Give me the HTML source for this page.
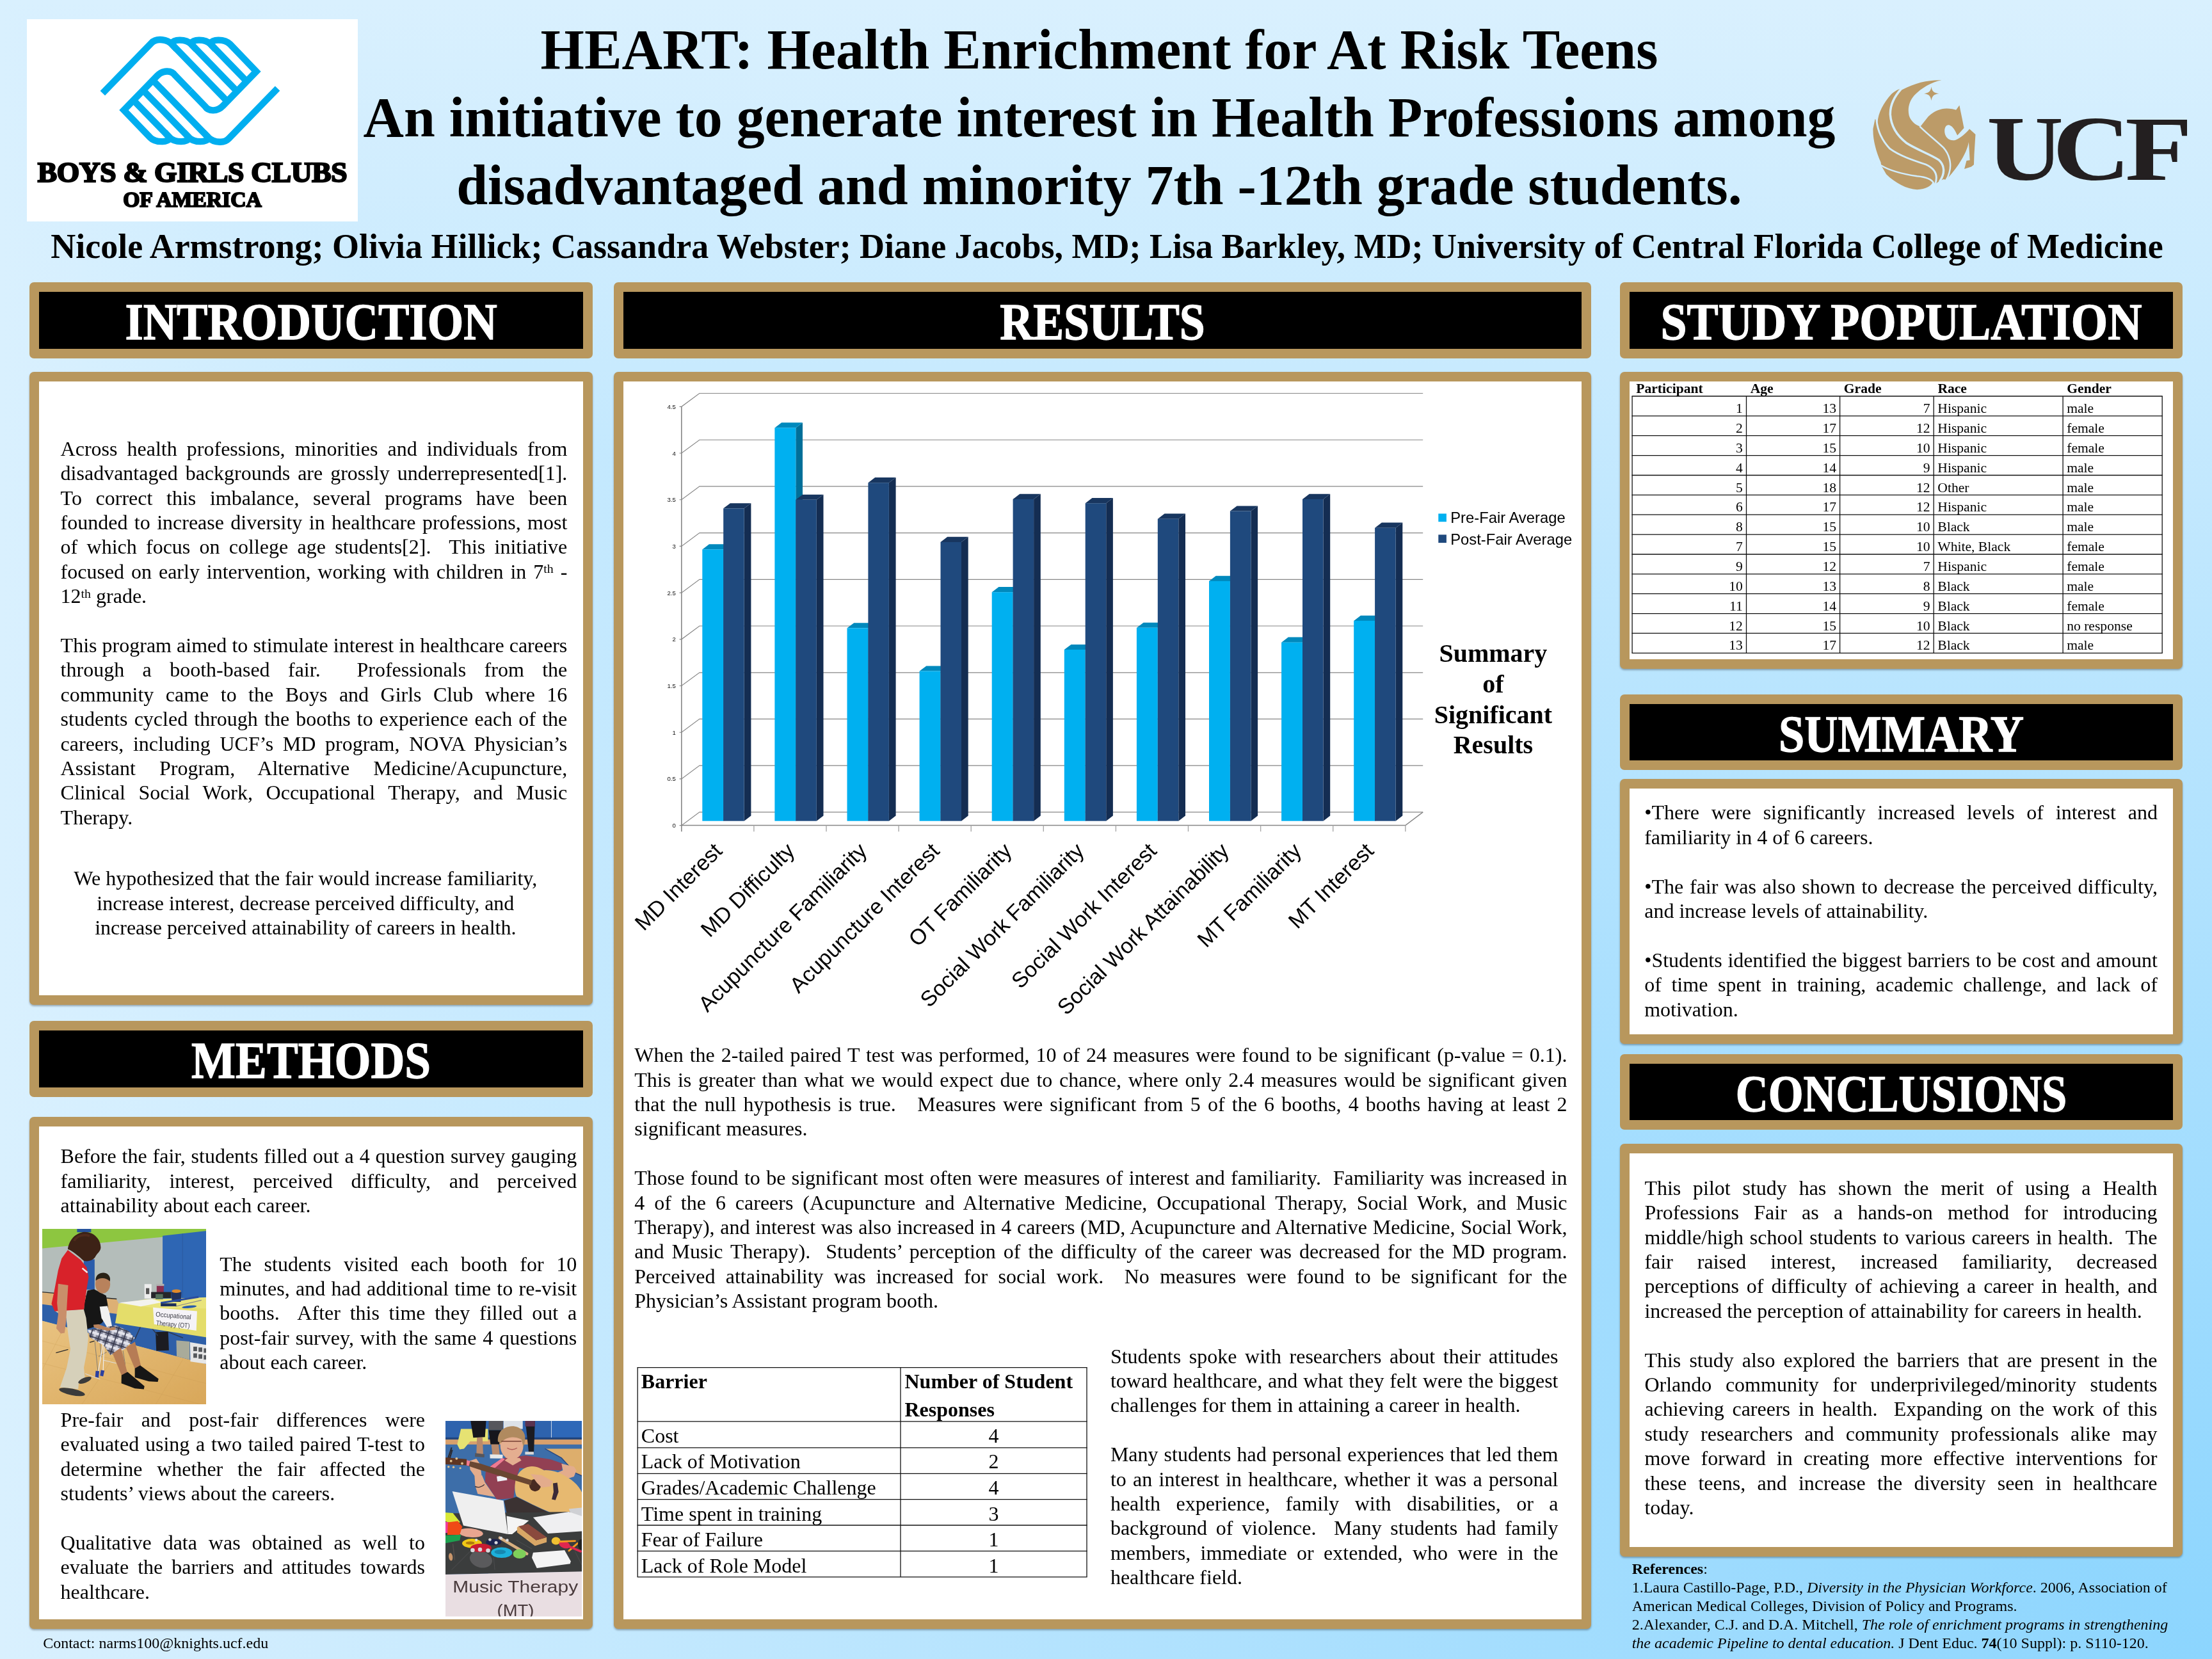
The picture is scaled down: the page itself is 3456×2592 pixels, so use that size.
<!DOCTYPE html>
<html><head><meta charset="utf-8"><title>HEART poster</title>
<style>
html,body{margin:0;padding:0}
body{width:3456px;height:2592px;position:relative;overflow:hidden;font-family:"Liberation Serif",serif;color:#000;
background:linear-gradient(to bottom,#d9f0fe,#8cd5fe)}
#bg2{position:absolute;left:0;top:0;width:3456px;height:2592px;clip-path:polygon(0 0,100% 100%,0 100%);
background:linear-gradient(to right,#d9f0fe,#8cd5fe)}
.f{position:absolute;box-sizing:border-box;border:15px solid #b8975d;border-radius:7px}
.fh{background:#000}
.fb{background:#fff;box-shadow:0 2px 3px rgba(0,0,0,.3)}
.h{position:absolute;font-weight:bold;font-size:80px;line-height:80px;color:#fff;text-align:center;white-space:nowrap;transform-origin:50% 50%;-webkit-text-stroke:1.3px #fff}
.t{position:absolute;font-size:32px;line-height:38.4px;text-align:justify}
.t p{margin:0}
.ttl{position:absolute;font-weight:bold;font-size:88px;line-height:106.4px;text-align:center;white-space:nowrap}
sup{font-size:62%;line-height:0;vertical-align:baseline;position:relative;top:-0.42em}
table{border-collapse:collapse}
svg{position:absolute;overflow:visible}
#wrap{position:absolute;left:0;top:0;width:3456px;height:2592px;will-change:transform}
</style></head><body>
<div id="bg2"></div>
<div id="wrap">
<!-- frames -->
<div class="f fh" style="left:46px;top:441px;width:880px;height:119px"></div>
<div class="f fb" style="left:46px;top:581px;width:880px;height:989px"></div>
<div class="f fh" style="left:46px;top:1595px;width:880px;height:119px"></div>
<div class="f fb" style="left:46px;top:1745px;width:880px;height:800px"></div>
<div class="f fh" style="left:959px;top:441px;width:1527px;height:119px"></div>
<div class="f fb" style="left:959px;top:581px;width:1527px;height:1964px"></div>
<div class="f fh" style="left:2531px;top:441px;width:879px;height:119px"></div>
<div class="f fb" style="left:2531px;top:581px;width:879px;height:464px"></div>
<div class="f fh" style="left:2531px;top:1085px;width:879px;height:118px"></div>
<div class="f fb" style="left:2531px;top:1217px;width:879px;height:414px"></div>
<div class="f fh" style="left:2531px;top:1647px;width:879px;height:118px"></div>
<div class="f fb" style="left:2531px;top:1787px;width:879px;height:645px"></div>
<!-- headings -->
<div class="h" style="left:46px;width:880px;top:463px;transform:scaleX(.908)">INTRODUCTION</div>
<div class="h" style="left:46px;width:880px;top:1617px;transform:scaleX(.914)">METHODS</div>
<div class="h" style="left:959px;width:1527px;top:463px;transform:scaleX(.8965)">RESULTS</div>
<div class="h" style="left:2531px;width:879px;top:463px;transform:scaleX(.9218)">STUDY POPULATION</div>
<div class="h" style="left:2531px;width:879px;top:1107px;transform:scaleX(.904)">SUMMARY</div>
<div class="h" style="left:2531px;width:879px;top:1669px;transform:scaleX(.882)">CONCLUSIONS</div>
<!-- title -->
<div class="ttl" style="left:0;width:3435px;top:24.5px;font-size:87.85px">HEART: Health Enrichment for At Risk Teens<br>An initiative to generate interest in Health Professions among<br>disadvantaged and minority 7th -12th grade students.</div>
<div class="ttl" style="left:0;width:3459px;top:352.5px;font-size:54px;line-height:64.8px">Nicole Armstrong; Olivia Hillick; Cassandra Webster; Diane Jacobs, MD; Lisa Barkley, MD; University of Central Florida College of Medicine</div>
<style>
.l{position:absolute;font-size:32px;line-height:38.4px;height:38.4px;white-space:nowrap;text-align:justify;text-align-last:justify}
.ll{text-align:left;text-align-last:left}
.lc{text-align:center;text-align-last:center}
.r{position:absolute;font-size:24px;line-height:28.8px;white-space:nowrap}
</style>
<div class="l" style="left:94.6px;top:681.8px;width:791.7px">Across health professions, minorities and individuals from</div>
<div class="l" style="left:94.6px;top:720.2px;width:791.7px">disadvantaged backgrounds are grossly underrepresented[1].</div>
<div class="l" style="left:94.6px;top:758.6px;width:791.7px">To correct this imbalance, several programs have been</div>
<div class="l" style="left:94.6px;top:797.0px;width:791.7px">founded to increase diversity in healthcare professions, most</div>
<div class="l" style="left:94.6px;top:835.4px;width:791.7px">of which focus on college age students[2].&nbsp; This initiative</div>
<div class="l" style="left:94.6px;top:873.8px;width:791.7px">focused on early intervention, working with children in 7<sup>th</sup> -</div>
<div class="l ll" style="left:94.6px;top:912.2px;width:791.7px">12<sup>th</sup> grade.</div>
<div class="l" style="left:94.6px;top:989.0px;width:791.7px">This program aimed to stimulate interest in healthcare careers</div>
<div class="l" style="left:94.6px;top:1027.4px;width:791.7px">through a booth-based fair.&nbsp; Professionals from the</div>
<div class="l" style="left:94.6px;top:1065.8px;width:791.7px">community came to the Boys and Girls Club where 16</div>
<div class="l" style="left:94.6px;top:1104.2px;width:791.7px">students cycled through the booths to experience each of the</div>
<div class="l" style="left:94.6px;top:1142.6px;width:791.7px">careers, including UCF’s MD program, NOVA Physician’s</div>
<div class="l" style="left:94.6px;top:1181.0px;width:791.7px">Assistant Program, Alternative Medicine/Acupuncture,</div>
<div class="l" style="left:94.6px;top:1219.4px;width:791.7px">Clinical Social Work, Occupational Therapy, and Music</div>
<div class="l ll" style="left:94.6px;top:1257.8px;width:791.7px">Therapy.</div>
<div class="l ll lc" style="left:77.3px;top:1353.0px;width:800.0px">We hypothesized that the fair would increase familiarity,</div>
<div class="l ll lc" style="left:77.3px;top:1391.6px;width:800.0px">increase interest, decrease perceived difficulty, and</div>
<div class="l ll lc" style="left:77.3px;top:1430.2px;width:800.0px">increase perceived attainability of careers in health.</div>
<div class="l" style="left:94.6px;top:1787.3px;width:806.6px">Before the fair, students filled out a 4 question survey gauging</div>
<div class="l" style="left:94.6px;top:1825.7px;width:806.6px">familiarity, interest, perceived difficulty, and perceived</div>
<div class="l ll" style="left:94.6px;top:1864.1px;width:806.6px">attainability about each career.</div>
<div class="l" style="left:343.3px;top:1955.5px;width:557.9px">The students visited each booth for 10</div>
<div class="l" style="left:343.3px;top:1993.9px;width:557.9px">minutes, and had additional time to re-visit</div>
<div class="l" style="left:343.3px;top:2032.3px;width:557.9px">booths.&nbsp; After this time they filled out a</div>
<div class="l" style="left:343.3px;top:2070.7px;width:557.9px">post-fair survey, with the same 4 questions</div>
<div class="l ll" style="left:343.3px;top:2109.1px;width:557.9px">about each career.</div>
<div class="l" style="left:94.6px;top:2199.0px;width:569.4px">Pre-fair and post-fair differences were</div>
<div class="l" style="left:94.6px;top:2237.4px;width:569.4px">evaluated using a two tailed paired T-test to</div>
<div class="l" style="left:94.6px;top:2275.8px;width:569.4px">determine whether the fair affected the</div>
<div class="l ll" style="left:94.6px;top:2314.2px;width:569.4px">students’ views about the careers.</div>
<div class="l" style="left:94.6px;top:2391.0px;width:569.4px">Qualitative data was obtained as well to</div>
<div class="l" style="left:94.6px;top:2429.4px;width:569.4px">evaluate the barriers and attitudes towards</div>
<div class="l ll" style="left:94.6px;top:2467.8px;width:569.4px">healthcare.</div>
<div class="l" style="left:991.3px;top:1629.2px;width:1457.2px">When the 2-tailed paired T test was performed, 10 of 24 measures were found to be significant (p-value = 0.1).</div>
<div class="l" style="left:991.3px;top:1667.6px;width:1457.2px">This is greater than what we would expect due to chance, where only 2.4 measures would be significant given</div>
<div class="l" style="left:991.3px;top:1706.0px;width:1457.2px">that the null hypothesis is true.&nbsp;&nbsp; Measures were significant from 5 of the 6 booths, 4 booths having at least 2</div>
<div class="l ll" style="left:991.3px;top:1744.4px;width:1457.2px">significant measures.</div>
<div class="l" style="left:991.3px;top:1821.2px;width:1457.2px">Those found to be significant most often were measures of interest and familiarity.&nbsp; Familiarity was increased in</div>
<div class="l" style="left:991.3px;top:1859.6px;width:1457.2px">4 of the 6 careers (Acupuncture and Alternative Medicine, Occupational Therapy, Social Work, and Music</div>
<div class="l" style="left:991.3px;top:1898.0px;width:1457.2px">Therapy), and interest was also increased in 4 careers (MD, Acupuncture and Alternative Medicine, Social Work,</div>
<div class="l" style="left:991.3px;top:1936.4px;width:1457.2px">and Music Therapy).&nbsp; Students’ perception of the difficulty of the career was decreased for the MD program.</div>
<div class="l" style="left:991.3px;top:1974.8px;width:1457.2px">Perceived attainability was increased for social work.&nbsp; No measures were found to be significant for the</div>
<div class="l ll" style="left:991.3px;top:2013.2px;width:1457.2px">Physician’s Assistant program booth.</div>
<div class="l" style="left:1734.9px;top:2099.6px;width:699.6px">Students spoke with researchers about their attitudes</div>
<div class="l" style="left:1734.9px;top:2138.0px;width:699.6px">toward healthcare, and what they felt were the biggest</div>
<div class="l ll" style="left:1734.9px;top:2176.4px;width:699.6px">challenges for them in attaining a career in health.</div>
<div class="l" style="left:1734.9px;top:2253.2px;width:699.6px">Many students had personal experiences that led them</div>
<div class="l" style="left:1734.9px;top:2291.6px;width:699.6px">to an interest in healthcare, whether it was a personal</div>
<div class="l" style="left:1734.9px;top:2330.0px;width:699.6px">health experience, family with disabilities, or a</div>
<div class="l" style="left:1734.9px;top:2368.4px;width:699.6px">background of violence.&nbsp; Many students had family</div>
<div class="l" style="left:1734.9px;top:2406.8px;width:699.6px">members, immediate or extended, who were in the</div>
<div class="l ll" style="left:1734.9px;top:2445.2px;width:699.6px">healthcare field.</div>
<div class="l" style="left:2569.2px;top:1250.4px;width:801.7px">•There were significantly increased levels of interest and</div>
<div class="l ll" style="left:2569.2px;top:1288.8px;width:801.7px">familiarity in 4 of 6 careers.</div>
<div class="l" style="left:2569.2px;top:1365.6px;width:801.7px">•The fair was also shown to decrease the perceived difficulty,</div>
<div class="l ll" style="left:2569.2px;top:1404.0px;width:801.7px">and increase levels of attainability.</div>
<div class="l" style="left:2569.2px;top:1480.8px;width:801.7px">•Students identified the biggest barriers to be cost and amount</div>
<div class="l" style="left:2569.2px;top:1519.2px;width:801.7px">of time spent in training, academic challenge, and lack of</div>
<div class="l ll" style="left:2569.2px;top:1557.6px;width:801.7px">motivation.</div>
<div class="l" style="left:2569.4px;top:1836.7px;width:801.1px">This pilot study has shown the merit of using a Health</div>
<div class="l" style="left:2569.4px;top:1875.1px;width:801.1px">Professions Fair as a hands-on method for introducing</div>
<div class="l" style="left:2569.4px;top:1913.5px;width:801.1px">middle/high school students to various careers in health.&nbsp; The</div>
<div class="l" style="left:2569.4px;top:1951.9px;width:801.1px">fair raised interest, increased familiarity, decreased</div>
<div class="l" style="left:2569.4px;top:1990.3px;width:801.1px">perceptions of difficulty of achieving a career in health, and</div>
<div class="l ll" style="left:2569.4px;top:2028.7px;width:801.1px">increased the perception of attainability for careers in health.</div>
<div class="l" style="left:2569.4px;top:2105.5px;width:801.1px">This study also explored the barriers that are present in the</div>
<div class="l" style="left:2569.4px;top:2143.9px;width:801.1px">Orlando community for underprivileged/minority students</div>
<div class="l" style="left:2569.4px;top:2182.3px;width:801.1px">achieving careers in health.&nbsp; Expanding on the work of this</div>
<div class="l" style="left:2569.4px;top:2220.7px;width:801.1px">study researchers and community professionals alike may</div>
<div class="l" style="left:2569.4px;top:2259.1px;width:801.1px">move forward in creating more effective interventions for</div>
<div class="l" style="left:2569.4px;top:2297.5px;width:801.1px">these teens, and increase the diversity seen in healthcare</div>
<div class="l ll" style="left:2569.4px;top:2335.9px;width:801.1px">today.</div>
<div class="r" style="left:2549.7px;top:2437.1px"><b>References</b>:</div>
<div class="r" style="left:2549.7px;top:2465.9px">1.Laura Castillo-Page, P.D., <i>Diversity in the Physician Workforce</i>. 2006, Association of</div>
<div class="r" style="left:2549.7px;top:2494.8px">American Medical Colleges, Division of Policy and Programs.</div>
<div class="r" style="left:2549.7px;top:2523.7px">2.Alexander, C.J. and D.A. Mitchell, <i>The role of enrichment programs in strengthening</i></div>
<div class="r" style="left:2549.7px;top:2552.5px"><i>the academic Pipeline to dental education.</i> J Dent Educ. <b>74</b>(10 Suppl): p. S110-120.</div>
<div class="r" style="left:67.2px;top:2553.4px">Contact: narms100@knights.ucf.edu</div>
<svg style="left:0;top:0" width="3456" height="2592" viewBox="0 0 3456 2592" font-family="Liberation Serif, serif">
<g stroke="#111" stroke-width="1.3" fill="none">
<path d="M2549.5,619.0H3378.8"/>
<path d="M2549.5,649.9H3378.8"/>
<path d="M2549.5,680.7H3378.8"/>
<path d="M2549.5,711.6H3378.8"/>
<path d="M2549.5,742.5H3378.8"/>
<path d="M2549.5,773.4H3378.8"/>
<path d="M2549.5,804.2H3378.8"/>
<path d="M2549.5,835.1H3378.8"/>
<path d="M2549.5,866.0H3378.8"/>
<path d="M2549.5,896.8H3378.8"/>
<path d="M2549.5,927.7H3378.8"/>
<path d="M2549.5,958.6H3378.8"/>
<path d="M2549.5,989.4H3378.8"/>
<path d="M2549.5,1020.3H3378.8"/>
<path d="M2550.1,619.0V1020.3"/>
<path d="M2728.5,619.0V1020.3"/>
<path d="M2874.6,619.0V1020.3"/>
<path d="M3021.2,619.0V1020.3"/>
<path d="M3223.1,619.0V1020.3"/>
<path d="M3378.2,619.0V1020.3"/>
</g>
<g font-size="21.6" font-weight="bold">
<text x="2556.3" y="614.3">Participant</text>
<text x="2734.7" y="614.3">Age</text>
<text x="2880.8" y="614.3">Grade</text>
<text x="3027.4" y="614.3">Race</text>
<text x="3229.3" y="614.3">Gender</text>
</g><g font-size="21.6">
<text x="2722.9" y="645.0" text-anchor="end">1</text>
<text x="2869.0" y="645.0" text-anchor="end">13</text>
<text x="3015.6" y="645.0" text-anchor="end">7</text>
<text x="3027.3" y="645.0">Hispanic</text>
<text x="3229.2" y="645.0">male</text>
<text x="2722.9" y="675.8" text-anchor="end">2</text>
<text x="2869.0" y="675.8" text-anchor="end">17</text>
<text x="3015.6" y="675.8" text-anchor="end">12</text>
<text x="3027.3" y="675.8">Hispanic</text>
<text x="3229.2" y="675.8">female</text>
<text x="2722.9" y="706.7" text-anchor="end">3</text>
<text x="2869.0" y="706.7" text-anchor="end">15</text>
<text x="3015.6" y="706.7" text-anchor="end">10</text>
<text x="3027.3" y="706.7">Hispanic</text>
<text x="3229.2" y="706.7">female</text>
<text x="2722.9" y="737.6" text-anchor="end">4</text>
<text x="2869.0" y="737.6" text-anchor="end">14</text>
<text x="3015.6" y="737.6" text-anchor="end">9</text>
<text x="3027.3" y="737.6">Hispanic</text>
<text x="3229.2" y="737.6">male</text>
<text x="2722.9" y="768.5" text-anchor="end">5</text>
<text x="2869.0" y="768.5" text-anchor="end">18</text>
<text x="3015.6" y="768.5" text-anchor="end">12</text>
<text x="3027.3" y="768.5">Other</text>
<text x="3229.2" y="768.5">male</text>
<text x="2722.9" y="799.3" text-anchor="end">6</text>
<text x="2869.0" y="799.3" text-anchor="end">17</text>
<text x="3015.6" y="799.3" text-anchor="end">12</text>
<text x="3027.3" y="799.3">Hispanic</text>
<text x="3229.2" y="799.3">male</text>
<text x="2722.9" y="830.2" text-anchor="end">8</text>
<text x="2869.0" y="830.2" text-anchor="end">15</text>
<text x="3015.6" y="830.2" text-anchor="end">10</text>
<text x="3027.3" y="830.2">Black</text>
<text x="3229.2" y="830.2">male</text>
<text x="2722.9" y="861.1" text-anchor="end">7</text>
<text x="2869.0" y="861.1" text-anchor="end">15</text>
<text x="3015.6" y="861.1" text-anchor="end">10</text>
<text x="3027.3" y="861.1">White, Black</text>
<text x="3229.2" y="861.1">female</text>
<text x="2722.9" y="891.9" text-anchor="end">9</text>
<text x="2869.0" y="891.9" text-anchor="end">12</text>
<text x="3015.6" y="891.9" text-anchor="end">7</text>
<text x="3027.3" y="891.9">Hispanic</text>
<text x="3229.2" y="891.9">female</text>
<text x="2722.9" y="922.8" text-anchor="end">10</text>
<text x="2869.0" y="922.8" text-anchor="end">13</text>
<text x="3015.6" y="922.8" text-anchor="end">8</text>
<text x="3027.3" y="922.8">Black</text>
<text x="3229.2" y="922.8">male</text>
<text x="2722.9" y="953.7" text-anchor="end">11</text>
<text x="2869.0" y="953.7" text-anchor="end">14</text>
<text x="3015.6" y="953.7" text-anchor="end">9</text>
<text x="3027.3" y="953.7">Black</text>
<text x="3229.2" y="953.7">female</text>
<text x="2722.9" y="984.5" text-anchor="end">12</text>
<text x="2869.0" y="984.5" text-anchor="end">15</text>
<text x="3015.6" y="984.5" text-anchor="end">10</text>
<text x="3027.3" y="984.5">Black</text>
<text x="3229.2" y="984.5">no response</text>
<text x="2722.9" y="1015.4" text-anchor="end">13</text>
<text x="2869.0" y="1015.4" text-anchor="end">17</text>
<text x="3015.6" y="1015.4" text-anchor="end">12</text>
<text x="3027.3" y="1015.4">Black</text>
<text x="3229.2" y="1015.4">male</text>
</g>
<g stroke="#111" stroke-width="1.3" fill="none">
<path d="M995.6,2136.6H1698.6"/>
<path d="M995.6,2220.8H1698.6"/>
<path d="M995.6,2261.9H1698.6"/>
<path d="M995.6,2302.3H1698.6"/>
<path d="M995.6,2342.6H1698.6"/>
<path d="M995.6,2383.0H1698.6"/>
<path d="M995.6,2423.4H1698.6"/>
<path d="M995.6,2463.8H1698.6"/>
<path d="M996.2,2136.6V2463.8"/>
<path d="M1407.0,2136.6V2463.8"/>
<path d="M1698.0,2136.6V2463.8"/>
</g>
<g font-size="32" font-weight="bold">
<text x="1001.8" y="2169.3">Barrier</text><text x="1413.5" y="2169.3">Number of Student</text><text x="1413.5" y="2213.2">Responses</text>
</g><g font-size="32">
<text x="1001.8" y="2253.5">Cost</text><text x="1552.5" y="2253.5" text-anchor="middle">4</text>
<text x="1001.8" y="2294.2">Lack of Motivation</text><text x="1552.5" y="2294.2" text-anchor="middle">2</text>
<text x="1001.8" y="2334.8">Grades/Academic Challenge</text><text x="1552.5" y="2334.8" text-anchor="middle">4</text>
<text x="1001.8" y="2375.5">Time spent in training</text><text x="1552.5" y="2375.5" text-anchor="middle">3</text>
<text x="1001.8" y="2416.1">Fear of Failure</text><text x="1552.5" y="2416.1" text-anchor="middle">1</text>
<text x="1001.8" y="2456.8">Lack of Role Model</text><text x="1552.5" y="2456.8" text-anchor="middle">1</text>
</g></svg>
<svg style="left:0;top:0" width="3456" height="2592" viewBox="0 0 3456 2592" font-family="Liberation Sans, sans-serif">
<g stroke="#868686" stroke-width="1.15" fill="none">
<path d="M1061.6,1289.6H1064.8L1092.9,1268.8H2223.2"/>
<path d="M1061.6,1216.9H1064.8L1092.9,1196.1H2223.2"/>
<path d="M1061.6,1144.2H1064.8L1092.9,1123.4H2223.2"/>
<path d="M1061.6,1071.5H1064.8L1092.9,1050.8H2223.2"/>
<path d="M1061.6,998.8H1064.8L1092.9,978.0H2223.2"/>
<path d="M1061.6,926.1H1064.8L1092.9,905.3H2223.2"/>
<path d="M1061.6,853.4H1064.8L1092.9,832.6H2223.2"/>
<path d="M1061.6,780.7H1064.8L1092.9,759.9H2223.2"/>
<path d="M1061.6,708.0H1064.8L1092.9,687.2H2223.2"/>
<path d="M1061.6,635.3H1064.8L1092.9,614.5H2223.2"/>
<path d="M1064.8,635.3V1299.2" stroke-width="1.6"/>
<path d="M1064.8,1289.6H2195.8L2223.2,1268.8" stroke-width="1.5"/>
<path d="M1177.9,1289.6V1299.2" stroke="#a8a8a8" stroke-width="1.4"/>
<path d="M1291.0,1289.6V1299.2" stroke="#a8a8a8" stroke-width="1.4"/>
<path d="M1404.1,1289.6V1299.2" stroke="#a8a8a8" stroke-width="1.4"/>
<path d="M1517.2,1289.6V1299.2" stroke="#a8a8a8" stroke-width="1.4"/>
<path d="M1630.3,1289.6V1299.2" stroke="#a8a8a8" stroke-width="1.4"/>
<path d="M1743.4,1289.6V1299.2" stroke="#a8a8a8" stroke-width="1.4"/>
<path d="M1856.5,1289.6V1299.2" stroke="#a8a8a8" stroke-width="1.4"/>
<path d="M1969.6,1289.6V1299.2" stroke="#a8a8a8" stroke-width="1.4"/>
<path d="M2082.7,1289.6V1299.2" stroke="#a8a8a8" stroke-width="1.4"/>
<path d="M2195.8,1289.6V1299.2" stroke="#a8a8a8" stroke-width="1.4"/>
</g>
<g font-size="9.6" text-anchor="end" fill="#111">
<text x="1055.8" y="1293.1">0</text>
<text x="1055.8" y="1220.4">0.5</text>
<text x="1055.8" y="1147.7">1</text>
<text x="1055.8" y="1075.0">1.5</text>
<text x="1055.8" y="1002.3">2</text>
<text x="1055.8" y="929.6">2.5</text>
<text x="1055.8" y="856.9">3</text>
<text x="1055.8" y="784.2">3.5</text>
<text x="1055.8" y="711.5">4</text>
<text x="1055.8" y="638.8">4.5</text>
</g>
<path d="M1130.2,1282.7L1140.9,1274.6V850.3L1130.2,858.4Z" fill="#006f99"/><path d="M1097.3,858.4L1108.0,850.3H1140.9L1130.2,858.4Z" fill="#0089bd"/><rect x="1097.3" y="858.4" width="32.9" height="424.3" fill="#00b0f0"/>
<path d="M1162.7,1282.7L1173.4,1274.6V786.2L1162.7,794.3Z" fill="#142d52"/><path d="M1130.2,794.3L1140.9,786.2H1173.4L1162.7,794.3Z" fill="#18365f"/><rect x="1130.2" y="794.3" width="32.5" height="488.4" fill="#1f497d"/>
<path d="M1243.3,1282.7L1254.0,1274.6V660.3L1243.3,668.4Z" fill="#006f99"/><path d="M1210.4,668.4L1221.1,660.3H1254.0L1243.3,668.4Z" fill="#0089bd"/><rect x="1210.4" y="668.4" width="32.9" height="614.3" fill="#00b0f0"/>
<path d="M1275.8,1282.7L1286.5,1274.6V772.7L1275.8,780.8Z" fill="#142d52"/><path d="M1243.3,780.8L1254.0,772.7H1286.5L1275.8,780.8Z" fill="#18365f"/><rect x="1243.3" y="780.8" width="32.5" height="501.9" fill="#1f497d"/>
<path d="M1356.4,1282.7L1367.1,1274.6V973.2L1356.4,981.3Z" fill="#006f99"/><path d="M1323.5,981.3L1334.2,973.2H1367.1L1356.4,981.3Z" fill="#0089bd"/><rect x="1323.5" y="981.3" width="32.9" height="301.4" fill="#00b0f0"/>
<path d="M1388.9,1282.7L1399.6,1274.6V746.1L1388.9,754.2Z" fill="#142d52"/><path d="M1356.4,754.2L1367.1,746.1H1399.6L1388.9,754.2Z" fill="#18365f"/><rect x="1356.4" y="754.2" width="32.5" height="528.5" fill="#1f497d"/>
<path d="M1469.5,1282.7L1480.2,1274.6V1040.4L1469.5,1048.5Z" fill="#006f99"/><path d="M1436.6,1048.5L1447.3,1040.4H1480.2L1469.5,1048.5Z" fill="#0089bd"/><rect x="1436.6" y="1048.5" width="32.9" height="234.2" fill="#00b0f0"/>
<path d="M1502.0,1282.7L1512.7,1274.6V838.8L1502.0,846.9Z" fill="#142d52"/><path d="M1469.5,846.9L1480.2,838.8H1512.7L1502.0,846.9Z" fill="#18365f"/><rect x="1469.5" y="846.9" width="32.5" height="435.8" fill="#1f497d"/>
<path d="M1582.6,1282.7L1593.3,1274.6V917.1L1582.6,925.2Z" fill="#006f99"/><path d="M1549.7,925.2L1560.4,917.1H1593.3L1582.6,925.2Z" fill="#0089bd"/><rect x="1549.7" y="925.2" width="32.9" height="357.5" fill="#00b0f0"/>
<path d="M1615.1,1282.7L1625.8,1274.6V771.8L1615.1,779.9Z" fill="#142d52"/><path d="M1582.6,779.9L1593.3,771.8H1625.8L1615.1,779.9Z" fill="#18365f"/><rect x="1582.6" y="779.9" width="32.5" height="502.8" fill="#1f497d"/>
<path d="M1695.7,1282.7L1706.4,1274.6V1006.9L1695.7,1015.0Z" fill="#006f99"/><path d="M1662.8,1015.0L1673.5,1006.9H1706.4L1695.7,1015.0Z" fill="#0089bd"/><rect x="1662.8" y="1015.0" width="32.9" height="267.7" fill="#00b0f0"/>
<path d="M1728.2,1282.7L1738.9,1274.6V778.1L1728.2,786.2Z" fill="#142d52"/><path d="M1695.7,786.2L1706.4,778.1H1738.9L1728.2,786.2Z" fill="#18365f"/><rect x="1695.7" y="786.2" width="32.5" height="496.5" fill="#1f497d"/>
<path d="M1808.8,1282.7L1819.5,1274.6V972.7L1808.8,980.8Z" fill="#006f99"/><path d="M1775.9,980.8L1786.6,972.7H1819.5L1808.8,980.8Z" fill="#0089bd"/><rect x="1775.9" y="980.8" width="32.9" height="301.9" fill="#00b0f0"/>
<path d="M1841.3,1282.7L1852.0,1274.6V802.6L1841.3,810.7Z" fill="#142d52"/><path d="M1808.8,810.7L1819.5,802.6H1852.0L1841.3,810.7Z" fill="#18365f"/><rect x="1808.8" y="810.7" width="32.5" height="472.0" fill="#1f497d"/>
<path d="M1921.9,1282.7L1932.6,1274.6V899.8L1921.9,907.9Z" fill="#006f99"/><path d="M1889.0,907.9L1899.7,899.8H1932.6L1921.9,907.9Z" fill="#0089bd"/><rect x="1889.0" y="907.9" width="32.9" height="374.8" fill="#00b0f0"/>
<path d="M1954.4,1282.7L1965.1,1274.6V790.4L1954.4,798.5Z" fill="#142d52"/><path d="M1921.9,798.5L1932.6,790.4H1965.1L1954.4,798.5Z" fill="#18365f"/><rect x="1921.9" y="798.5" width="32.5" height="484.2" fill="#1f497d"/>
<path d="M2035.0,1282.7L2045.7,1274.6V995.6L2035.0,1003.7Z" fill="#006f99"/><path d="M2002.1,1003.7L2012.8,995.6H2045.7L2035.0,1003.7Z" fill="#0089bd"/><rect x="2002.1" y="1003.7" width="32.9" height="279.0" fill="#00b0f0"/>
<path d="M2067.5,1282.7L2078.2,1274.6V771.8L2067.5,779.9Z" fill="#142d52"/><path d="M2035.0,779.9L2045.7,771.8H2078.2L2067.5,779.9Z" fill="#18365f"/><rect x="2035.0" y="779.9" width="32.5" height="502.8" fill="#1f497d"/>
<path d="M2148.1,1282.7L2158.8,1274.6V961.8L2148.1,969.9Z" fill="#006f99"/><path d="M2115.2,969.9L2125.9,961.8H2158.8L2148.1,969.9Z" fill="#0089bd"/><rect x="2115.2" y="969.9" width="32.9" height="312.8" fill="#00b0f0"/>
<path d="M2180.6,1282.7L2191.3,1274.6V816.6L2180.6,824.7Z" fill="#142d52"/><path d="M2148.1,824.7L2158.8,816.6H2191.3L2180.6,824.7Z" fill="#18365f"/><rect x="2148.1" y="824.7" width="32.5" height="458.0" fill="#1f497d"/>
<rect x="2247.3" y="802.5" width="12.6" height="12.7" fill="#00b0f0"/><rect x="2247.3" y="835.4" width="12.6" height="12.7" fill="#1f497d"/>
<g font-size="23.8" fill="#000"><text x="2266.2" y="817.3">Pre-Fair Average</text><text x="2266.2" y="850.6">Post-Fair Average</text></g>
<g font-size="34" text-anchor="end" fill="#000">
<text transform="translate(1130.3,1331.5) rotate(-45)">MD Interest</text>
<text transform="translate(1243.5,1331.5) rotate(-45)">MD Difficulty</text>
<text transform="translate(1356.5,1331.5) rotate(-45)">Acupuncture Familiarity</text>
<text transform="translate(1469.7,1331.5) rotate(-45)">Acupuncture Interest</text>
<text transform="translate(1582.8,1331.5) rotate(-45)">OT Familiarity</text>
<text transform="translate(1695.9,1331.5) rotate(-45)">Social Work Familiarity</text>
<text transform="translate(1809.0,1331.5) rotate(-45)">Social Work Interest</text>
<text transform="translate(1922.1,1331.5) rotate(-45)">Social Work Attainability</text>
<text transform="translate(2035.2,1331.5) rotate(-45)">MT Familiarity</text>
<text transform="translate(2148.2,1331.5) rotate(-45)">MT Interest</text>
</g>
<g font-family="Liberation Serif, serif" font-weight="bold" font-size="40" text-anchor="middle">
<text x="2332.9" y="1033.8">Summary</text>
<text x="2332.9" y="1081.5">of</text>
<text x="2332.9" y="1129.5">Significant</text>
<text x="2332.9" y="1177.3">Results</text>
</g></svg>
<!-- BGCA logo -->
<div style="position:absolute;left:42px;top:30px;width:517px;height:316px;background:#fff"></div>
<svg style="left:140px;top:40px" width="320" height="200" viewBox="0 0 2212 1382">
<g fill="none" stroke="#00aeef" stroke-width="72" stroke-linejoin="miter" stroke-miterlimit="10">
<g id="bgh">
<path d="M140.5,730.5 L668,187 C700,154 730,150 765,152 C810,154 850,162 887,200 C892,140 1042,143 1097,200 C1102,140 1252,143 1306,200 C1311,140 1461,143 1516,200 L1800,495 L1440,866 C1380,928 1286,932 1246,870 L1085,704"/>
<path d="M887,200 L1490,821 M1097,200 L1595,713 M1306,200 L1700,605"/>
</g>
<use href="#bgh" transform="rotate(180 1085 704)"/>
</g></svg>
<div style="position:absolute;left:42px;width:517px;top:246.7px;text-align:center;font-weight:bold;font-size:44.5px;line-height:44.5px;white-space:nowrap;transform:scaleX(1.022);-webkit-text-stroke:2.4px #000;letter-spacing:-0.3px">BOYS &amp; GIRLS CLUBS</div>
<div style="position:absolute;left:42px;width:517px;top:295.2px;text-align:center;font-weight:bold;font-size:33.5px;line-height:33.5px;white-space:nowrap;transform:scaleX(1.005);-webkit-text-stroke:2px #000">OF AMERICA</div>
<!-- UCF logo -->
<svg style="left:2915px;top:115px" width="185" height="190" viewBox="0 0 1615 1659">
<defs><mask id="pgm" maskUnits="userSpaceOnUse" x="0" y="0" width="1615" height="1659"><rect width="1615" height="1659" fill="#fff"/>
<g fill="none" stroke="#000" stroke-linecap="round">
<path stroke-width="30" d="M489,203 C400,300 330,430 335,560 C345,720 430,850 560,950 C700,1040 880,1100 1000,1180 C1075,1250 1085,1360 1012,1466"/>
<path stroke-width="25" d="M148,640 C165,800 230,920 330,1025 C460,1120 640,1180 820,1240 C930,1290 1000,1370 945,1514"/>
<path stroke-width="22" d="M210,1253 C330,1325 500,1370 700,1400 C830,1412 905,1440 930,1502"/>
<path stroke-width="22" d="M742,725 C850,830 960,915 1060,1010 C1140,1100 1175,1230 1140,1350 C1130,1390 1115,1425 1093,1456"/>
</g></mask></defs>
<path mask="url(#pgm)" fill="#bc9b68" d="M1035,90 C900,115 760,195 660,300 C590,380 570,480 590,570 C610,640 670,700 745,722 L850,590 C900,540 960,500 1040,482 C1100,470 1180,478 1232,496 L1278,432 L1292,505 L1312,600 L1340,742 L1250,842 C1225,790 1190,715 1135,700 C1090,695 1068,750 1078,810 C1090,880 1150,925 1225,905 C1290,880 1370,810 1415,755 L1497,830 L1480,1100 L1475,1242 L1440,1270 L1345,1300 L1375,1187 L1420,1180 L1405,935 C1385,1050 1300,1230 1095,1452 L1065,1440 L1010,1462 L1000,1470 L940,1512 L915,1475 C900,1530 820,1575 700,1582 C560,1575 400,1490 280,1372 L212,1255 L205,1210 C140,1060 95,900 100,750 L127,620 L162,660 C170,540 240,400 350,280 C400,235 440,215 487,200 L500,218 C680,125 850,85 1035,90 Z"/>
<path fill="#bc9b68" d="M895,178 C905,240 925,262 998,272 C925,282 905,305 895,368 C885,305 865,282 795,272 C865,262 885,240 895,178 Z"/>
</svg>
<svg style="left:2900px;top:100px" width="540" height="220" viewBox="0 0 2212 901">
<g font-family="Liberation Serif, serif" font-weight="bold" font-size="590" fill="#231f20">
<text x="836" y="740" textLength="492" lengthAdjust="spacingAndGlyphs">U</text>
<text x="1258" y="740" textLength="498" lengthAdjust="spacingAndGlyphs">C</text>
<text x="1722" y="740" textLength="430" lengthAdjust="spacingAndGlyphs">F</text>
</g>
</svg>
<!-- photo 1: OT -->
<svg style="left:66px;top:1920px" width="256" height="274" viewBox="0 0 2212 2367" preserveAspectRatio="none">
<defs><clipPath id="c1"><rect x="0" y="0" width="2212" height="2367"/></clipPath>
<filter id="b1" x="-5%" y="-5%" width="110%" height="110%"><feGaussianBlur stdDeviation="5"/></filter>
<linearGradient id="fl" x1="0" y1="0" x2="1" y2="1"><stop offset="0" stop-color="#e9c381"/><stop offset="1" stop-color="#d8a658"/></linearGradient>
<pattern id="plaid" width="110" height="110" patternUnits="userSpaceOnUse" patternTransform="rotate(18)"><rect width="110" height="110" fill="#7d8094"/><rect width="110" height="36" fill="#e2e3ec"/><rect width="36" height="110" fill="#e2e3ec" opacity=".75"/><rect x="70" width="14" height="110" fill="#34364a"/><rect y="70" width="110" height="14" fill="#34364a"/></pattern></defs>
<g clip-path="url(#c1)"><g filter="url(#b1)">
<rect x="-50" y="-50" width="2312" height="2467" fill="#b4bdba"/>
<polygon points="-50,-50 2262,-50 2262,25 1620,110 -50,267" fill="#8dc63f"/>
<polygon points="1625,92 2262,22 2262,965 1625,950" fill="#2f66b4"/><path d="M1895,65 V955" stroke="#2a5aa3" stroke-width="10"/>
<rect x="470" y="-50" width="190" height="95" fill="#27529c"/><rect x="560" y="410" width="147" height="410" fill="#2b5cab"/>
<polygon points="-50,850 1000,948 1035,1012 1035,1160 -50,1012" fill="#ddb074"/>
<path d="M-50,848 L1005,946" stroke="#2c2c2c" stroke-width="12"/>
<polygon points="-50,1010 1035,1152 2262,1320 2262,1840 -50,1228" fill="#2e5fa8"/>
<polygon points="-50,1226 2262,1838 2262,2420 -50,2420" fill="url(#fl)"/>
<g stroke="#c99a52" stroke-width="5" opacity=".55"><path d="M-50,1500 L2262,2100 M-50,1800 L2262,2400 M300,1320 L-50,2000 M1100,1530 L500,2420 M1900,1760 L1500,2420"/></g>
<path d="M185,1672 L350,1628 M640,1532 L705,1512" stroke="#2a2a2a" stroke-width="11"/>
<!-- under table -->
<polygon points="1530,1393 1700,1385 1710,1640 1540,1645" fill="#1e1e23"/>
<polygon points="1810,1505 1990,1520 1990,1765 1815,1720" fill="#a9ab9a"/>
<polygon points="1995,1530 2262,1575 2262,1830 2000,1790" fill="#e6e6e6"/>
<g fill="#55585c"><rect x="2040" y="1590" width="50" height="60"/><rect x="2110" y="1600" width="50" height="60"/><rect x="2180" y="1612" width="40" height="60"/><rect x="2040" y="1680" width="50" height="60"/><rect x="2110" y="1692" width="50" height="60"/><rect x="2180" y="1704" width="40" height="60"/></g>
<path d="M1330,1313 L1250,1490 M1480,1340 L1560,1440 M1700,1390 L1900,1470" stroke="#2d3a52" stroke-width="14"/>
<!-- table -->
<polygon points="1030,1008 2262,995 2262,1470 1250,1313 985,1273" fill="#e4dd6a"/>
<polygon points="1030,1008 1400,950 2262,922 2262,1075 1490,1062" fill="#e9e47c"/>
<polygon points="1040,995 1480,945 1625,990 1330,1047" fill="#f3f3ef"/>
<polygon points="1495,1060 2090,1110 2080,1373 1510,1288" fill="#f5f3f7"/>
<g font-family="Liberation Sans, sans-serif" font-size="92" fill="#3c3c46" transform="rotate(4.8 1530 1180)"><text x="1530" y="1182" textLength="480" lengthAdjust="spacingAndGlyphs">Occupational</text><text x="1545" y="1300" textLength="455" lengthAdjust="spacingAndGlyphs">Therapy (OT)</text></g>
<rect x="1380" y="745" width="95" height="195" fill="#ededed"/><rect x="1400" y="800" width="45" height="80" fill="#555"/>
<rect x="1545" y="760" width="95" height="150" fill="#8a2e50"/><rect x="1540" y="742" width="105" height="28" fill="#b0b0b0"/>
<rect x="1470" y="852" width="270" height="82" fill="#25252b"/><rect x="1530" y="880" width="100" height="70" fill="#54705c"/>
<polygon points="1740,852 1880,852 1870,985 1752,985" fill="#23305a"/><ellipse cx="1810" cy="840" rx="62" ry="24" fill="#e08a2a"/>
<path d="M1600,1000 L2110,918" stroke="#2b4e9e" stroke-width="26"/><path d="M1800,1045 L2150,962" stroke="#8a8a8a" stroke-width="10"/>
<ellipse cx="1985" cy="1052" rx="100" ry="18" fill="#2b5baa" transform="rotate(-5 1985 1052)"/><rect x="1600" y="1005" width="210" height="40" fill="#1f2f5a"/>
<!-- chair -->
<g stroke="#7b7873" stroke-width="8" fill="none"><path d="M710,1523 L760,2008"/><path d="M780,1543 L800,1733"/><path d="M1090,1643 L1120,1833"/><path d="M760,1723 L870,1663"/></g>
<path d="M830,1773 L1000,1815 M580,1955 L780,2028" stroke="#dcdcdc" stroke-width="9"/>
<path d="M850,1373 L758,1923 M842,1373 L822,1913" stroke="#f0f0f0" stroke-width="10"/>
<polygon points="722,1915 770,1919 760,2008 715,1998" fill="#2c3fa0"/><polygon points="792,1905 840,1913 822,1991 780,1981" fill="#2c3fa0"/>
<!-- boy -->
<polygon points="610,832 700,815 862,900 882,1010 900,1133 805,1273 700,1323 600,1355 588,1223 560,1123 570,1000" fill="#161616"/>
<ellipse cx="817" cy="745" rx="100" ry="125" fill="#b8825c"/>
<path d="M722,700 C715,610 800,578 860,598 C912,618 925,672 912,708 C860,650 770,652 722,700 Z" fill="#2b2019"/>
<polygon points="775,1050 880,1040 905,1123 942,1313 880,1335 800,1203" fill="#f1f1f1"/>
<polygon points="615,1363 1000,1303 1170,1383 1250,1473 1190,1543 1110,1623 920,1705 830,1573 640,1463" fill="url(#plaid)"/>
<polygon points="690,1293 760,1288 900,1338 990,1323 985,1363 880,1373 700,1333" fill="#b8825c"/>
<polygon points="950,1683 1062,1603 1150,1943 1070,1975" fill="#b67b54"/><polygon points="1130,1603 1252,1523 1332,1845 1250,1885" fill="#b67b54"/>
<polygon points="1070,1973 1152,1931 1380,2123 1372,2163 1250,2153 1068,2085" fill="#141414"/><polygon points="1250,1883 1322,1843 1570,2023 1560,2065 1440,2058 1250,2005" fill="#141414"/>
<!-- woman -->
<polygon points="170,1108 560,1085 592,1200 622,1473 600,1673 562,1873 575,2003 492,2091 486,2163 240,2138 330,1873 380,1623 350,1423 322,1200" fill="#d6d0ba"/>
<polygon points="345,285 520,420 600,520 626,650 602,800 562,1087 168,1112 125,1010 160,850 215,560 262,400" fill="#d8212b"/>
<polygon points="215,740 350,760 335,1000 322,1250 302,1403 250,1413 190,1343 215,1153 200,1000" fill="#c98f6a"/>
<path d="M345,275 C360,150 450,50 570,40 C700,40 790,140 790,250 C790,300 740,330 720,370 C700,420 620,450 560,430 C500,380 420,300 345,275 Z" fill="#3d2218"/>
<path d="M430,160 C470,90 560,70 640,95" stroke="#5a3022" stroke-width="30" fill="none" opacity=".7"/>
<path d="M540,530 L610,590" stroke="#f0e8e8" stroke-width="22"/>
<ellipse cx="575" cy="2043" rx="95" ry="34" fill="#3a3a3a" transform="rotate(-22 575 2043)"/>
<ellipse cx="402" cy="2201" rx="178" ry="44" fill="#3a3a3a" transform="rotate(12 402 2201)"/>
</g></g></svg>
<!-- photo 2: MT -->
<svg style="left:696px;top:2220px" width="213" height="305.5" viewBox="0 0 2209 3168" preserveAspectRatio="none">
<defs><clipPath id="c2"><rect x="0" y="0" width="2209" height="3168"/></clipPath>
<filter id="b2" x="-5%" y="-5%" width="110%" height="110%"><feGaussianBlur stdDeviation="6"/></filter></defs>
<g clip-path="url(#c2)"><g filter="url(#b2)">
<rect x="-50" y="-50" width="2309" height="3268" fill="#3d6ea9"/>
<rect x="-50" y="-50" width="2309" height="330" fill="#2d63ad"/><rect x="1712" y="-50" width="560" height="320" fill="#2f68b8"/><rect x="-50" y="268" width="2309" height="36" fill="#23447c"/><path d="M1716,-50 V270" stroke="#dfe6f0" stroke-width="9"/>
<rect x="-50" y="302" width="2309" height="80" fill="#d9a06c"/>
<polygon points="1612,450 2259,450 2259,910 2100,842 1880,600" fill="#ddae6c"/><path d="M1612,450 L1880,600 L2100,842 L2259,910" stroke="#2b4a80" stroke-width="16" fill="none"/>
<polygon points="250,130 690,130 690,330 400,332 300,452 230,462 190,380" fill="#e6e272"/>
<polygon points="400,-50 662,-50 640,262 450,272" fill="#15161b"/><polygon points="510,270 600,270 612,560 500,560" fill="#b98a6c"/><polygon points="480,522 632,540 628,592 478,582" fill="#55565c"/>
<polygon points="700,-50 940,-50 930,150 700,150" fill="#56575c"/><polygon points="700,150 900,150 872,382 730,382" fill="#17181c"/><polygon points="742,380 860,380 880,560 762,560" fill="#b98a6c"/><polygon points="720,542 930,548 925,610 722,606" fill="#e9e9e9"/>
<rect x="940" y="-50" width="312" height="180" fill="#dde2e8"/>
<polygon points="1290,-50 1452,-50 1432,522 1350,522" fill="#1b1c22"/><rect x="1292" y="-50" width="158" height="140" fill="#5a3050"/><rect x="1290" y="500" width="140" height="45" fill="#d8d8d8"/>
<path d="M30,640 L100,430 M60,640 L110,470" stroke="#2a2a30" stroke-width="22"/>
<!-- woman -->
<polygon points="980,580 1200,580 1262,690 950,690" fill="#e0a98a"/>
<polygon points="960,602 1300,560 1700,622 1902,692 1880,802 1560,792 1200,762 1132,1000 1102,1252 832,1272 640,982 650,832 760,702" fill="#923f52"/>
<polygon points="960,640 1090,720 1230,640 1200,600 1000,610" fill="#e4ae90"/>
<polygon points="720,742 922,600 962,622 802,762" fill="#ee7a92"/>
<polygon points="830,900 990,880 1000,960 842,982" fill="#eef1f6"/>
<polygon points="1880,692 2082,742 2122,802 2082,902 1902,962 1702,1052 1552,1082 1482,1002 1502,902 1702,882 1902,802" fill="#e3ac8c"/>
<polygon points="470,882 592,882 642,1000 802,1232 522,1182 482,1052" fill="#e3ac8c"/>
<polygon points="385,650 500,612 560,700 585,880 470,890 400,790" fill="#e3ac8c"/>
<path d="M478,1062 C520,1085 590,1075 630,1030" stroke="#3a3038" stroke-width="14" fill="none"/>
<ellipse cx="1075" cy="402" rx="186" ry="222" fill="#e4ae90"/>
<path d="M850,335 C838,200 920,90 1080,85 C1222,85 1302,190 1290,302 C1282,362 1272,400 1262,422 L1232,300 C1100,232 960,262 900,362 Z" fill="#b08a5e"/>
<path d="M905,330 H1230" stroke="#6a3328" stroke-width="14"/><path d="M1000,440 C1050,470 1110,470 1160,438" stroke="#b05a58" stroke-width="14" fill="none"/>
<polygon points="950,1292 1150,1232 1500,1402 1720,1500 1000,1535" fill="#3a3130"/>
<!-- guitar -->
<path d="M1130,1000 C1150,850 1250,740 1400,735 C1500,735 1560,780 1600,800 C1700,790 1850,830 1950,900 C2100,980 2209,1100 2240,1250 L2240,1400 C2100,1470 1900,1500 1720,1490 C1500,1400 1300,1300 1150,1220 C1120,1150 1120,1060 1130,1000 Z" fill="#e7b96f"/>
<ellipse cx="1452" cy="1042" rx="95" ry="100" fill="#4a2c24"/>
<polygon points="1742,1010 1812,1000 1832,1150 1782,1282 1722,1270 1752,1150" fill="#3a2c38"/>
<polygon points="340,640 560,690 1402,962 1380,1042 560,792 340,722" fill="#6b4630"/>
<polygon points="-20,590 342,620 352,722 -20,702" fill="#5e3420"/><g fill="#e0c090"><circle cx="90" cy="650" r="20"/><circle cx="180" cy="610" r="20"/><circle cx="270" cy="690" r="20"/><circle cx="130" cy="750" r="18"/><circle cx="50" cy="745" r="18"/><circle cx="240" cy="765" r="16"/></g>
<polygon points="345,635 400,650 380,730 340,720" fill="#f07a90"/>
<polygon points="1380,860 1560,880 1740,980 1700,1060 1560,1080 1480,1000" fill="#e3ac8c"/>
<!-- table -->
<polygon points="-50,1500 2259,1470 2259,2444 -50,2489" fill="#3b3c3d"/>
<g stroke="#6a6b6c" stroke-width="8" opacity=".5"><path d="M100,2414 L500,2014 M800,2414 L780,2214 M1400,2074 L1150,1934 M2100,2114 L2209,2334"/></g>
<polygon points="2000,1425 2259,1400 2259,1570 2050,1560" fill="#cfd0d4"/>
<polygon points="1420,1562 2000,1472 2259,1560 2259,1784 1660,1826" fill="#efeff1"/>
<polygon points="110,1140 940,1290 1012,1836 290,1696" fill="#efefef"/>
<polygon points="990,1540 1352,1614 1080,1836 1012,1836" fill="#f4f4f4"/>
<polygon points="1160,1729 1180,1709 1470,1934 1640,1884 1640,1966 1450,2026 1160,1806" fill="#d9a766"/><polygon points="1180,1709 1340,1669 1640,1884 1470,1934" fill="#8a4a3c"/>
<polygon points="1420,2134 1930,2094 2030,2274 2020,2316 1480,2386 1400,2216" fill="#f4f4f4"/>
<ellipse cx="575" cy="2244" rx="185" ry="132" fill="#5a5a5b" transform="rotate(15 575 2244)"/>
<ellipse cx="410" cy="1814" rx="200" ry="72" fill="#e8a590" transform="rotate(5 410 1814)"/>
<ellipse cx="430" cy="1984" rx="160" ry="76" fill="#f0c818"/><ellipse cx="400" cy="1979" rx="72" ry="26" fill="#b07a10"/>
<ellipse cx="780" cy="1964" rx="125" ry="52" fill="#1d2450"/>
<path d="M880,1894 L1320,2154" stroke="#d9b080" stroke-width="46" stroke-linecap="round"/>
<ellipse cx="575" cy="2059" rx="172" ry="70" fill="#c81e32"/>
<g fill="#d8d8dc"><circle cx="440" cy="2094" r="34"/><circle cx="560" cy="2084" r="34"/><circle cx="690" cy="2099" r="34"/><circle cx="720" cy="1924" r="24"/><circle cx="820" cy="1974" r="26"/><circle cx="900" cy="1899" r="24"/><circle cx="1000" cy="1934" r="24"/><circle cx="500" cy="1929" r="22"/></g>
<ellipse cx="910" cy="2134" rx="172" ry="86" fill="#1eb0da"/><ellipse cx="885" cy="2124" rx="92" ry="36" fill="#1688b0"/>
<ellipse cx="1200" cy="2154" rx="105" ry="76" fill="#7ed05a"/>
<ellipse cx="1790" cy="1944" rx="72" ry="62" fill="#f0c030"/><ellipse cx="1930" cy="2006" rx="92" ry="56" fill="#e02850" transform="rotate(20 1930 2006)"/>
<path d="M1850,1954 L2100,1946 M2000,2104 L2140,1984" stroke="#f59a20" stroke-width="30" stroke-linecap="round"/><path d="M2000,2034 L2190,2114" stroke="#e02850" stroke-width="36" stroke-linecap="round"/>
<ellipse cx="2200" cy="2004" rx="55" ry="85" fill="#222"/>
<polygon points="-20,1484 120,1494 240,1644 60,1654 -20,1614" fill="#d8e838"/><polygon points="-20,1634 70,1644 60,1814 -20,1814" fill="#f03ca0"/>
<polygon points="40,1644 200,1624 272,1714 230,1846 30,1846" fill="#f04818"/><polygon points="-20,1856 250,1844 232,1936 -20,1986" fill="#1fa050"/>
<path d="M120,1994 L150,2254" stroke="#55504c" stroke-width="14"/><ellipse cx="85" cy="2204" rx="32" ry="62" fill="#c8956a" transform="rotate(-8 85 2204)"/>
<!-- sign -->
<polygon points="-50,2489 2259,2439 2259,3220 -50,3220" fill="#e9dee2"/>
<g font-family="Liberation Sans, sans-serif" font-size="262" fill="#4a3a3c"><text x="118" y="2780" textLength="2030" lengthAdjust="spacingAndGlyphs">Music Therapy</text><text x="835" y="3166" textLength="600" lengthAdjust="spacingAndGlyphs">(MT)</text></g>
</g></g></svg>
</div>
</body></html>
